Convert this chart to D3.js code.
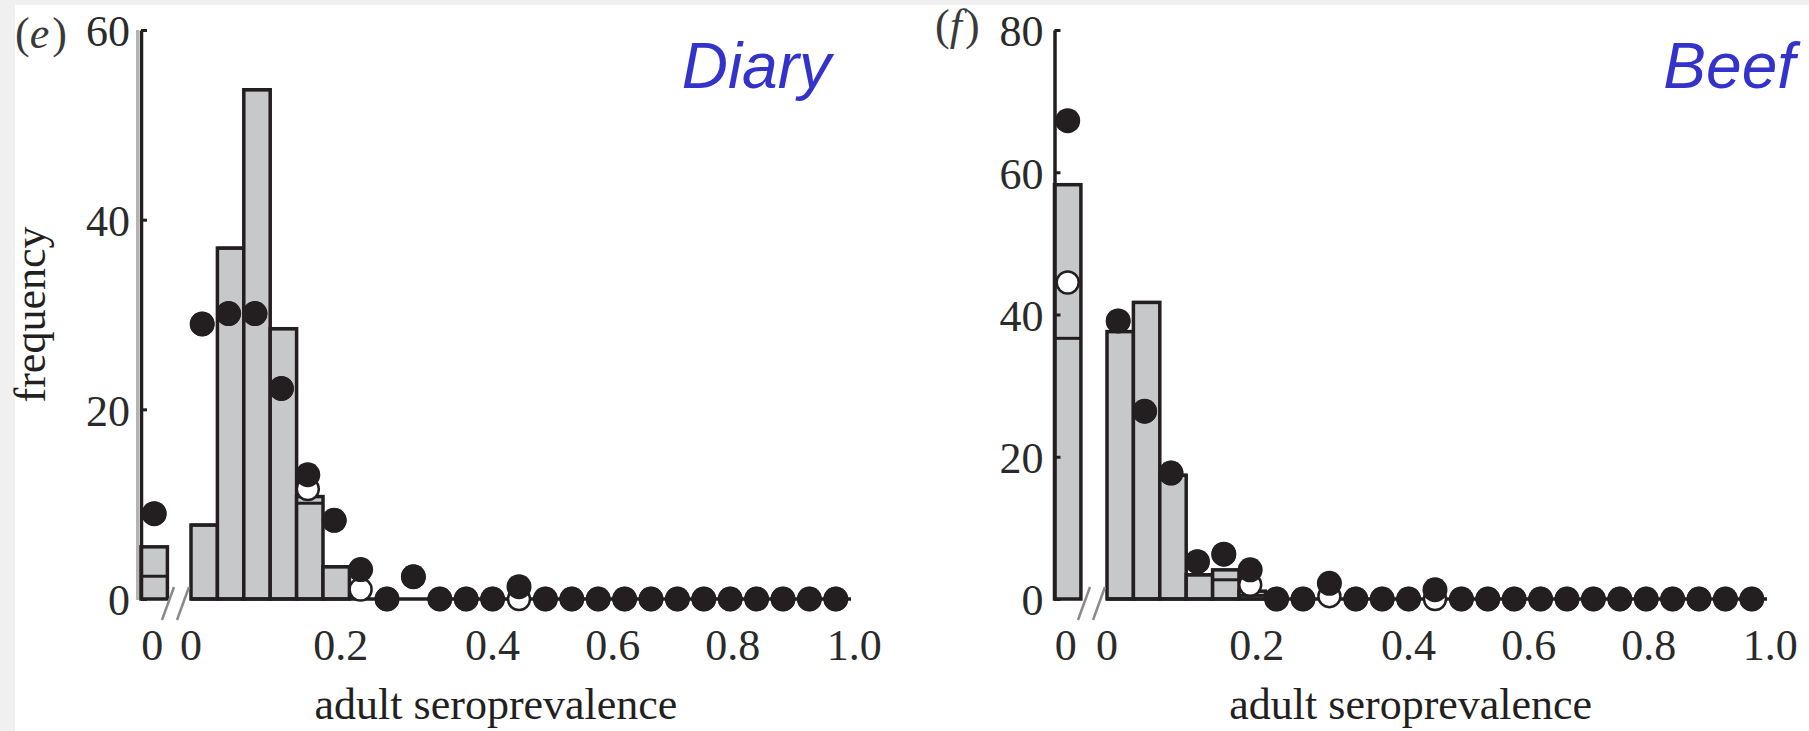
<!DOCTYPE html>
<html><head><meta charset="utf-8">
<script src="https://cdn.jsdelivr.net/npm/d3@7"></script>
<style>body{margin:0;background:#f0f0f0} svg{display:block}</style>
</head><body>
<svg id="chart" width="1809" height="731"></svg>
<script>
// ---------- data ----------
const binLeft = [0,0.04,0.08,0.12,0.16,0.2,0.24,0.28,0.32,0.36,0.4,0.44,0.48,0.52,0.56,0.6,0.64,0.68,0.72,0.76,0.8,0.84,0.88,0.92,0.96];
const binWidth = 0.04;
const xTickAt = [0, 0.227, 0.457, 0.639, 0.821, 1.005];
const xTickLabels = ["0","0.2","0.4","0.6","0.8","1.0"];
const zeroLabel = "0";

// panel (e) Diary
const diaryYTicks = [0,20,40,60];
const diaryZero = {bar:5.5, inner:2.4, filled:9.0, open:9.0};
const diaryBars   = [7.8,37.0,53.7,28.5,10.8,3.4,0,0,0,0,0,0,0,0,0,0,0,0,0,0,0,0,0,0,0];
const diaryInner  = [7.8,37.0,53.7,28.5,10.1,3.4,0,0,0,0,0,0,0,0,0,0,0,0,0,0,0,0,0,0,0];
const diaryFilled = [29.0,30.1,30.1,22.2,13.1,8.3,3.1,0,2.35,0,0,0,1.3,0,0,0,0,0,0,0,0,0,0,0,0];
const diaryOpen   = [29.0,30.1,30.1,22.2,11.6,8.3,1.0,0,2.35,0,0,0,0,0,0,0,0,0,0,0,0,0,0,0,0];

// panel (f) Beef
const beefYTicks = [0,20,40,60,80];
const beefZero = {bar:58.25, inner:36.65, filled:67.25, open:44.5};
const beefBars   = [37.6,41.7,17.4,3.4,4.1,1.1,0,0,0,0,0,0,0,0,0,0,0,0,0,0,0,0,0,0,0];
const beefInner  = [37.6,41.7,17.4,3.4,2.7,0.5,0,0,0,0,0,0,0,0,0,0,0,0,0,0,0,0,0,0,0];
const beefFilled = [39.1,26.4,17.7,5.25,6.3,4.1,0,0,2.2,0,0,0,1.3,0,0,0,0,0,0,0,0,0,0,0,0];
const beefOpen   = [39.1,26.4,17.7,5.25,6.3,2.0,0,0,0.4,0,0,0,0,0,0,0,0,0,0,0,0,0,0,0,0];

// ---------- layout ----------
const INK = "#231f20", BARFILL = "#c7c8ca", SERIF = "'Liberation Serif','Times New Roman',serif";
const SW = 3.5;
const panels = [
  {tag:"e", title:"Diary", yMax:60, yTicks:diaryYTicks, zero:diaryZero, bars:diaryBars, inner:diaryInner,
   filled:diaryFilled, open:diaryOpen, axisX:141, x0:191, titleX:831, tagX:15, tagY:48, grayLine:true, ylabel:true},
  {tag:"f", title:"Beef", yMax:80, yTicks:beefYTicks, zero:beefZero, bars:beefBars, inner:beefInner,
   filled:beefFilled, open:beefOpen, axisX:1054.5, x0:1107, titleX:1795, tagX:935, tagY:40, grayLine:false, ylabel:false}
];
const yBottom = 599, yTop = 30, pxPerUnit = 660;

const svg = d3.select("#chart");
svg.append("rect").attr("x",0).attr("y",0).attr("width",1809).attr("height",731).attr("fill","#f0f0f0");
svg.append("rect").attr("x",15).attr("y",5).attr("width",1794).attr("height",726).attr("fill","#ffffff");

panels.forEach(p => {
  const g = svg.append("g");
  const x = d3.scaleLinear().domain([0,1]).range([p.x0, p.x0 + pxPerUnit]);
  const y = d3.scaleLinear().domain([0,p.yMax]).range([yBottom, yTop]);
  const bwPx = x(binWidth) - x(0);
  const xz = d3.scaleLinear().domain([0,binWidth]).range([p.axisX, p.axisX + bwPx]);

  if (p.grayLine) {
    g.append("line").attr("x1",p.axisX-3.5).attr("x2",p.axisX-3.5).attr("y1",yTop).attr("y2",yBottom+1)
      .attr("stroke","#b3b3b3").attr("stroke-width",3);
  }

  // zero bin bar
  g.append("rect").attr("x",xz(0)).attr("width",bwPx).attr("y",y(p.zero.bar)).attr("height",y(0)-y(p.zero.bar))
    .attr("fill",BARFILL).attr("stroke",INK).attr("stroke-width",SW);
  g.append("line").attr("x1",xz(0)).attr("x2",xz(binWidth)).attr("y1",y(p.zero.inner)).attr("y2",y(p.zero.inner))
    .attr("stroke",INK).attr("stroke-width",3);

  // main bars
  const binData = binLeft.map((b,i)=>({b, bar:p.bars[i], inner:p.inner[i], filled:p.filled[i], open:p.open[i]}));
  g.selectAll("rect.bar").data(binData.filter(d=>d.bar>0)).join("rect").attr("class","bar")
    .attr("x",d=>x(d.b)).attr("width",bwPx).attr("y",d=>y(d.bar)).attr("height",d=>y(0)-y(d.bar))
    .attr("fill",BARFILL).attr("stroke",INK).attr("stroke-width",SW);
  g.selectAll("line.inner").data(binData.filter(d=>d.inner>0)).join("line").attr("class","inner")
    .attr("x1",d=>x(d.b)).attr("x2",d=>x(d.b+binWidth)).attr("y1",d=>y(d.inner)).attr("y2",d=>y(d.inner))
    .attr("stroke",INK).attr("stroke-width",3);

  // baseline
  g.append("line").attr("x1",x(0)).attr("x2",x(1)).attr("y1",y(0)).attr("y2",y(0)).attr("stroke",INK).attr("stroke-width",SW);

  // y axis
  const ax = g.append("g").attr("transform",`translate(${p.axisX},0)`)
    .call(d3.axisLeft(y).tickValues(p.yTicks).tickSizeInner(-6).tickSizeOuter(0).tickPadding(11).tickFormat(d3.format("d")));
  ax.attr("font-family",SERIF).attr("font-size",44);
  ax.select(".domain").attr("stroke",INK).attr("stroke-width",SW);
  ax.selectAll(".tick line").attr("stroke",INK).attr("stroke-width",3);
  ax.selectAll(".tick text").attr("fill","#2a2a2a").attr("dy","0.36em");

  // axis break marks
  [[-17,-29],[-2,-14]].forEach(([t,b])=>{
    g.append("line").attr("x1",x(0)+t).attr("y1",587).attr("x2",x(0)+b).attr("y2",620)
      .attr("stroke","#8a8a8a").attr("stroke-width",2.5);
  });

  // open circles then filled circles
  const zc = xz(binWidth/2);
  g.append("circle").attr("cx",zc).attr("cy",y(p.zero.open)).attr("r",11).attr("fill","#fff").attr("stroke",INK).attr("stroke-width",2.5);
  g.selectAll("circle.open").data(binData).join("circle").attr("class","open")
    .attr("cx",d=>x(d.b+binWidth/2)-2).attr("cy",d=>y(d.open)).attr("r",11)
    .attr("fill","#fff").attr("stroke",INK).attr("stroke-width",2.5);
  g.append("circle").attr("cx",zc).attr("cy",y(p.zero.filled)).attr("r",12.5).attr("fill",INK);
  g.selectAll("circle.filled").data(binData).join("circle").attr("class","filled")
    .attr("cx",d=>x(d.b+binWidth/2)-2).attr("cy",d=>y(d.filled)).attr("r",12.5).attr("fill",INK);

  // x tick labels
  g.append("text").attr("x",zc-2).attr("y",660).attr("text-anchor","middle")
    .attr("font-family",SERIF).attr("font-size",44).attr("fill","#2a2a2a").text(zeroLabel);
  g.selectAll("text.xt").data(xTickAt).join("text").attr("class","xt")
    .attr("x",d=>x(d)).attr("y",660).attr("text-anchor","middle")
    .attr("font-family",SERIF).attr("font-size",44).attr("fill","#2a2a2a")
    .text((d,i)=>xTickLabels[i]);

  // x axis title
  g.append("text").attr("x",(p.axisX + x(1))/2).attr("y",719).attr("text-anchor","middle")
    .attr("font-family",SERIF).attr("font-size",44).attr("fill","#231f20").text("adult seroprevalence");

  if (p.ylabel) {
    g.append("text").attr("transform",`translate(45,${(yTop+yBottom)/2}) rotate(-90)`).attr("text-anchor","middle")
      .attr("font-family",SERIF).attr("font-size",44).attr("fill","#231f20").text("frequency");
  }

  // panel tag
  const tg = g.append("text").attr("x",p.tagX).attr("y",p.tagY).attr("font-family",SERIF).attr("font-size",44).attr("fill","#3a3a3a");
  tg.append("tspan").text("(");
  tg.append("tspan").attr("font-style","italic").text(p.tag);
  tg.append("tspan").attr("dx",3).text(")");

  // title
  g.append("text").attr("x",p.titleX).attr("y",88).attr("text-anchor","end")
    .attr("font-family","'Liberation Sans',Arial,sans-serif").attr("font-style","italic").attr("font-size",64)
    .attr("fill","#3333cc").text(p.title);
});
</script>
</body></html>
